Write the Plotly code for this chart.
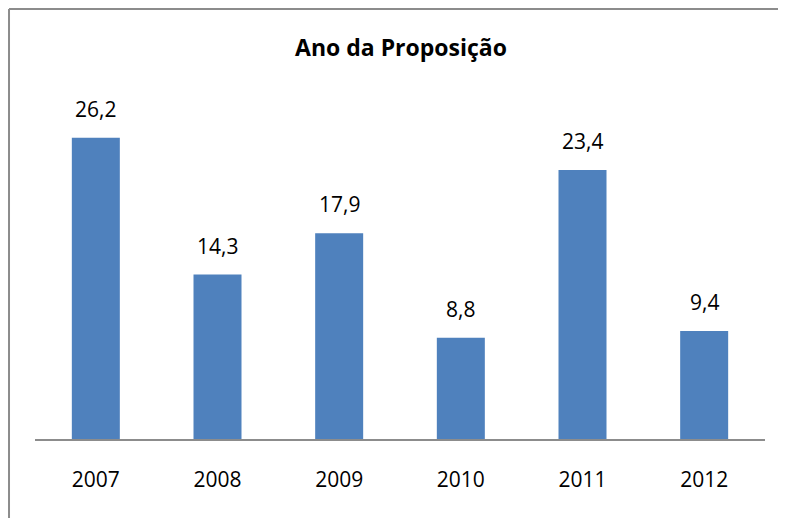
import plotly.graph_objects as go

anos = ["2007", "2008", "2009", "2010", "2011", "2012"]
valores = [26.2, 14.3, 17.9, 8.8, 23.4, 9.4]
rotulos = ["26,2", "14,3", "17,9", "8,8", "23,4", "9,4"]

fonte = "Open Sans, Noto Sans, sans-serif"

fig = go.Figure(go.Bar(
    x=anos,
    y=valores,
    marker=dict(color="#4f81bd", line=dict(width=0)),
    hoverinfo="skip",
))

# rótulos acima das barras (x como índice da categoria)
for i, (v, r) in enumerate(zip(valores, rotulos)):
    fig.add_annotation(x=i, y=v, text=r, showarrow=False,
                       yanchor="bottom", yshift=13,
                       font=dict(size=21, color="#000000", family=fonte))

# moldura do gráfico (cortada à direita e em baixo)
borda = dict(color="#8c8c8c", width=2)
fig.add_shape(type="line", xref="paper", yref="paper",
              x0=-0.0356, x1=-0.0356, y0=1.2464, y1=-0.4, line=borda)
fig.add_shape(type="line", xref="paper", yref="paper",
              x0=-0.0356, x1=1.2, y0=1.2464, y1=1.2464, line=borda)

fig.update_layout(
    width=778, height=510,
    margin=dict(l=27, r=21, t=86, b=79, autoexpand=False),
    paper_bgcolor="white", plot_bgcolor="white",
    showlegend=False,
    bargap=0.6055,
    title=dict(text="<b>Ano da Proposição</b>", x=393 / 778, xanchor="center",
               y=1 - 40 / 510, yanchor="middle",
               font=dict(size=23, color="#000000", family=fonte)),
    xaxis=dict(type="category", categoryarray=anos, range=[-0.5, 5.5],
               showline=True, linecolor="#8c8c8c", linewidth=1.5,
               showgrid=False, ticks="outside",
               tickcolor="rgba(0,0,0,0)", ticklen=21,
               tickfont=dict(size=21, color="#000000", family=fonte)),
    yaxis=dict(range=[0, 30], visible=False, showgrid=False),
)

fig.write_html("out.html")
